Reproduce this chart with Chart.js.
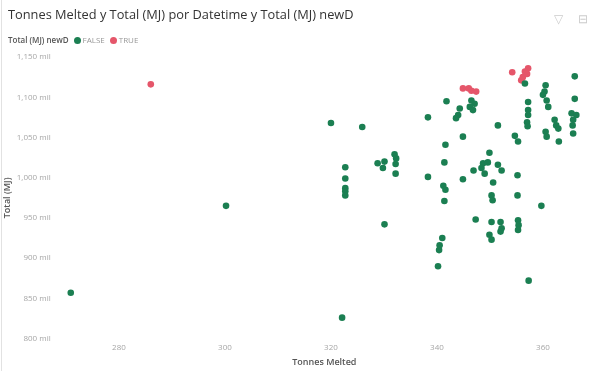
<!DOCTYPE html>
<html>
<head>
<meta charset="utf-8">
<script src="https://cdn.jsdelivr.net/npm/chart.js@4/dist/chart.umd.min.js"></script>
<style>
  body { margin: 0; background: #fff; }
  #wrap { position: relative; width: 599px; height: 371px; font-family: "Open Sans", sans-serif; }
  #edge { position: absolute; left: 1px; top: 0; width: 1px; height: 371px; background: #e2e2e2; }
  #title { position: absolute; left: 8px; top: 5px; font-size: 12.8px; color: #333; white-space: nowrap; }
  #legend { position: absolute; left: 8px; top: 34px; font-size: 8px; color: #999; white-space: nowrap; }
  #legend b { color: #555; font-weight: 600; margin-right: 5px; }
  #legend .dot { display: inline-block; width: 7px; height: 7px; border-radius: 50%; vertical-align: -1px; margin-right: 2px; }
  #legend .item { margin-right: 5px; }
  #icons { position: absolute; left: 554px; top: 10px; font-size: 12px; color: #ccc; letter-spacing: 6px; }
  #box { position: absolute; left: 0; top: 0; width: 599px; height: 371px; }
</style>
</head>
<body>
<div id="wrap">
  <div id="box"><canvas id="chart"></canvas></div>
  <div id="edge"></div>
  <div id="title">Tonnes Melted y Total (MJ) por Datetime y Total (MJ) newD</div>
  <div id="legend"></div>
  <div id="icons">▽ ⊟</div>
</div>
<script>
// series: [Tonnes Melted, Total (MJ) in thousands]
const falsePoints = [
  [270.9, 857], [300.2, 965], [322.1, 826], [357.3, 872],
  [320.0, 1068], [325.9, 1063], [338.3, 1075], [341.8, 1095], [341.6, 1041],
  [356.6, 1117], [346.5, 1096], [347.1, 1092], [346.2, 1088], [346.8, 1084],
  [344.3, 1086], [344.0, 1078], [343.6, 1074], [351.5, 1065], [344.9, 1051],
  [349.9, 1031], [354.7, 1052], [355.3, 1045],
  [357.2, 1094], [357.2, 1084], [357.2, 1078], [357.0, 1069], [357.1, 1064],
  [360.5, 1115], [360.3, 1107], [360.0, 1103], [360.7, 1096], [361.0, 1088],
  [362.2, 1072], [362.5, 1065], [362.9, 1061], [360.5, 1057], [360.7, 1051], [363.0, 1045],
  [366.0, 1126], [366.0, 1098], [365.4, 1080], [366.3, 1078], [365.7, 1072], [365.6, 1065], [365.7, 1055],
  [322.7, 1013], [322.7, 999], [322.7, 987], [322.7, 983], [322.7, 978],
  [328.8, 1018], [330.1, 1020], [329.8, 1012], [332.0, 1029], [332.3, 1024], [332.2, 1017], [332.2, 1005],
  [330.1, 942], [338.3, 1001],
  [341.4, 1019], [341.2, 990], [341.6, 985], [341.4, 971],
  [341.0, 925], [340.5, 916], [340.4, 910], [340.2, 890],
  [348.7, 1018], [349.6, 1019], [348.4, 1012], [349.0, 1005], [351.5, 1016], [352.2, 1009],
  [346.9, 1009], [344.9, 998], [350.6, 994], [355.2, 1003],
  [350.3, 978], [350.5, 972], [355.2, 978], [359.7, 965],
  [347.3, 948], [350.3, 945], [352.0, 945], [352.2, 937], [352.0, 933],
  [349.9, 929], [350.3, 923], [355.3, 947], [355.4, 941], [355.3, 935]
];
const truePoints = [
  [286.0, 1116], [344.9, 1111], [346.0, 1111], [346.5, 1108], [347.4, 1107],
  [354.2, 1131], [357.2, 1136], [356.2, 1125], [357.0, 1129], [355.9, 1121], [356.6, 1132]
];
const seriesNames = ['FALSE', 'TRUE'];
const seriesColors = ['#1b7f52', '#e5566a'];
const xTicks = [280, 300, 320, 340, 360];
const yTicks = [800, 850, 900, 950, 1000, 1050, 1100, 1150];

document.getElementById('legend').innerHTML = '<b>Total (MJ) newD</b>' +
  seriesNames.map((n, i) => `<span class="item"><span class="dot" style="background:${seriesColors[i]}"></span>${n}</span>`).join('');

const toXY = arr => arr.map(p => ({x: p[0], y: p[1]}));
const tickFont = {family: 'Open Sans', size: 8};

new Chart(document.getElementById('chart'), {
  type: 'scatter',
  data: {
    datasets: [toXY(falsePoints), toXY(truePoints)].map((d, i) => ({
      label: seriesNames[i],
      data: d,
      backgroundColor: seriesColors[i],
      borderColor: seriesColors[i],
      pointRadius: 3.3,
      pointHoverRadius: 3.3,
      borderWidth: 0
    }))
  },
  options: {
    responsive: true,
    maintainAspectRatio: false,
    animation: false,
    layout: {padding: {top: 53, left: 2, right: 11, bottom: 3}},
    plugins: {legend: {display: false}, tooltip: {enabled: false}},
    scales: {
      x: {
        type: 'linear', min: 269, max: 368.5,
        afterBuildTicks: s => { s.ticks = xTicks.map(v => ({value: v})); },
        grid: {display: false, drawTicks: false, tickLength: 0}, border: {display: false},
        ticks: {color: '#a6a6a6', font: tickFont, padding: 0},
        title: {display: true, text: 'Tonnes Melted', color: '#555', font: {family: 'Open Sans', size: 9, weight: '600'}, padding: {top: 5, bottom: 0}}
      },
      y: {
        type: 'linear', min: 795, max: 1155,
        afterBuildTicks: s => { s.ticks = yTicks.map(v => ({value: v})); },
        grid: {display: false}, border: {display: false},
        ticks: {
          color: '#a6a6a6', font: tickFont, padding: 2,
          callback: v => v.toLocaleString('en-US') + ' mil'
        },
        title: {display: true, text: 'Total (MJ)', color: '#555', font: {family: 'Open Sans', size: 9, weight: '600'}, padding: {top: 0, bottom: 2}}
      }
    }
  }
});
</script>
</body>
</html>
